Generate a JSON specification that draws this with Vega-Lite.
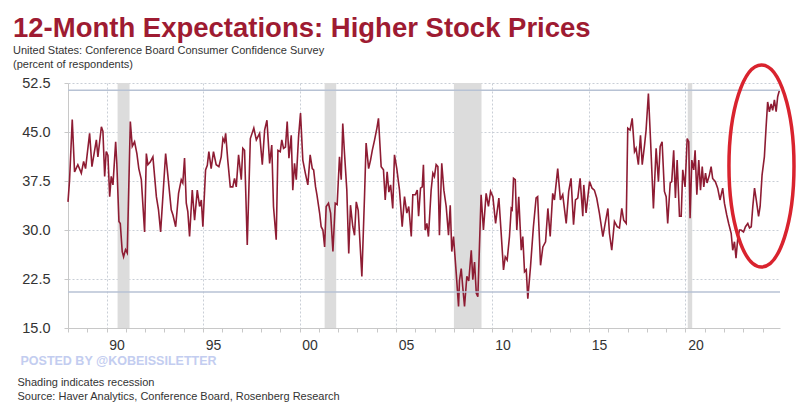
{
  "$schema": "https://vega.github.io/schema/vega-lite/v6.json",
  "width": 712,
  "height": 245,
  "autosize": {"type": "none"},
  "padding": {"left": 68, "top": 83, "right": 20, "bottom": 83},
  "background": "white",
  "title": {
    "text": "12-Month Expectations: Higher Stock Prices",
    "subtitle": ["United States: Conference Board Consumer Confidence Survey", "(percent of respondents)"],
    "anchor": "start",
    "frame": "group",
    "dx": -55,
    "offset": -12,
    "font": "Liberation Sans",
    "fontSize": 27.5,
    "fontWeight": "bold",
    "color": "#9e1b32",
    "subtitleFont": "Liberation Sans",
    "subtitleFontSize": 11,
    "subtitleColor": "#333333",
    "subtitlePadding": 3,
    "subtitleLineHeight": 13.5
  },
  "datasets": {
    "recessions": [
      {"start": 1990.57, "end": 1991.19},
      {"start": 2001.3, "end": 2001.9},
      {"start": 2008.0, "end": 2009.43},
      {"start": 2020.12, "end": 2020.35}
    ],
    "refs": [{"level": 51.4}, {"level": 20.5}],
    "highlight": [{"year": 2023.94, "value": 39.8}],
    "series": [
      {"year": 1988.0, "value": 34.3}, {"year": 1988.08, "value": 37.6}, {"year": 1988.22, "value": 46.9}, {"year": 1988.34, "value": 38.9},
      {"year": 1988.51, "value": 40.0}, {"year": 1988.69, "value": 38.7}, {"year": 1988.81, "value": 40.5}, {"year": 1988.91, "value": 39.4},
      {"year": 1989.12, "value": 44.8}, {"year": 1989.24, "value": 39.7}, {"year": 1989.47, "value": 43.8}, {"year": 1989.55, "value": 41.2},
      {"year": 1989.73, "value": 45.8}, {"year": 1989.81, "value": 45.1}, {"year": 1989.9, "value": 38.2}, {"year": 1989.98, "value": 42.0},
      {"year": 1990.07, "value": 41.4}, {"year": 1990.16, "value": 35.1}, {"year": 1990.24, "value": 38.2}, {"year": 1990.33, "value": 36.9},
      {"year": 1990.47, "value": 43.5}, {"year": 1990.53, "value": 40.2}, {"year": 1990.64, "value": 31.3}, {"year": 1990.71, "value": 31.0},
      {"year": 1990.81, "value": 26.7}, {"year": 1990.88, "value": 25.9}, {"year": 1990.98, "value": 27.0}, {"year": 1991.07, "value": 26.5},
      {"year": 1991.23, "value": 46.6}, {"year": 1991.33, "value": 42.8}, {"year": 1991.45, "value": 43.5}, {"year": 1991.57, "value": 41.7},
      {"year": 1991.67, "value": 39.4}, {"year": 1991.8, "value": 37.7}, {"year": 1991.97, "value": 29.7}, {"year": 1992.06, "value": 41.7},
      {"year": 1992.14, "value": 40.0}, {"year": 1992.26, "value": 40.4}, {"year": 1992.4, "value": 41.2}, {"year": 1992.58, "value": 35.1},
      {"year": 1992.69, "value": 33.1}, {"year": 1992.8, "value": 29.7}, {"year": 1993.06, "value": 41.7}, {"year": 1993.18, "value": 38.2},
      {"year": 1993.35, "value": 33.1}, {"year": 1993.44, "value": 32.3}, {"year": 1993.58, "value": 30.5}, {"year": 1993.73, "value": 35.6},
      {"year": 1993.87, "value": 37.7}, {"year": 1993.95, "value": 37.2}, {"year": 1994.04, "value": 41.0}, {"year": 1994.13, "value": 34.1},
      {"year": 1994.21, "value": 32.8}, {"year": 1994.3, "value": 29.0}, {"year": 1994.44, "value": 36.1}, {"year": 1994.56, "value": 31.5},
      {"year": 1994.7, "value": 36.1}, {"year": 1994.82, "value": 33.6}, {"year": 1994.91, "value": 34.6}, {"year": 1994.99, "value": 30.5},
      {"year": 1995.13, "value": 39.2}, {"year": 1995.22, "value": 39.9}, {"year": 1995.3, "value": 42.0}, {"year": 1995.42, "value": 39.4},
      {"year": 1995.54, "value": 42.0}, {"year": 1995.68, "value": 40.0}, {"year": 1995.82, "value": 39.7}, {"year": 1995.94, "value": 41.2},
      {"year": 1996.03, "value": 44.0}, {"year": 1996.11, "value": 43.5}, {"year": 1996.17, "value": 44.8}, {"year": 1996.28, "value": 40.7},
      {"year": 1996.41, "value": 36.6}, {"year": 1996.54, "value": 36.6}, {"year": 1996.63, "value": 37.9}, {"year": 1996.72, "value": 36.6},
      {"year": 1996.84, "value": 41.5}, {"year": 1996.98, "value": 37.7}, {"year": 1997.06, "value": 42.5}, {"year": 1997.15, "value": 42.2},
      {"year": 1997.29, "value": 27.7}, {"year": 1997.45, "value": 44.0}, {"year": 1997.63, "value": 45.6}, {"year": 1997.76, "value": 43.8},
      {"year": 1997.93, "value": 44.8}, {"year": 1998.07, "value": 40.0}, {"year": 1998.19, "value": 45.3}, {"year": 1998.31, "value": 46.8},
      {"year": 1998.45, "value": 40.2}, {"year": 1998.56, "value": 43.0}, {"year": 1998.65, "value": 33.6}, {"year": 1998.79, "value": 28.5},
      {"year": 1998.88, "value": 42.2}, {"year": 1999.0, "value": 42.0}, {"year": 1999.08, "value": 43.8}, {"year": 1999.17, "value": 42.5},
      {"year": 1999.27, "value": 42.7}, {"year": 1999.36, "value": 46.6}, {"year": 1999.45, "value": 41.0}, {"year": 1999.57, "value": 44.5},
      {"year": 1999.65, "value": 36.1}, {"year": 1999.74, "value": 40.2}, {"year": 1999.83, "value": 37.7}, {"year": 1999.95, "value": 44.3},
      {"year": 2000.05, "value": 47.9}, {"year": 2000.17, "value": 40.7}, {"year": 2000.3, "value": 38.7}, {"year": 2000.43, "value": 36.9},
      {"year": 2000.55, "value": 41.5}, {"year": 2000.66, "value": 39.4}, {"year": 2000.73, "value": 39.2}, {"year": 2000.83, "value": 36.6},
      {"year": 2000.9, "value": 35.4}, {"year": 2001.04, "value": 32.6}, {"year": 2001.12, "value": 30.5}, {"year": 2001.21, "value": 30.0},
      {"year": 2001.3, "value": 27.4}, {"year": 2001.38, "value": 33.6}, {"year": 2001.5, "value": 34.1}, {"year": 2001.61, "value": 32.6},
      {"year": 2001.73, "value": 26.7}, {"year": 2001.85, "value": 34.1}, {"year": 2001.95, "value": 33.9}, {"year": 2002.07, "value": 41.2},
      {"year": 2002.16, "value": 37.7}, {"year": 2002.24, "value": 46.3}, {"year": 2002.33, "value": 41.7}, {"year": 2002.45, "value": 36.1},
      {"year": 2002.55, "value": 26.4}, {"year": 2002.64, "value": 33.8}, {"year": 2002.76, "value": 30.5}, {"year": 2002.85, "value": 29.2},
      {"year": 2002.94, "value": 34.3}, {"year": 2003.04, "value": 33.0}, {"year": 2003.23, "value": 22.9}, {"year": 2003.37, "value": 35.4},
      {"year": 2003.45, "value": 43.3}, {"year": 2003.58, "value": 39.4}, {"year": 2003.68, "value": 40.7}, {"year": 2003.77, "value": 42.2},
      {"year": 2003.89, "value": 43.8}, {"year": 2004.01, "value": 45.6}, {"year": 2004.09, "value": 47.1}, {"year": 2004.23, "value": 39.7},
      {"year": 2004.35, "value": 39.2}, {"year": 2004.44, "value": 34.6}, {"year": 2004.54, "value": 38.9}, {"year": 2004.63, "value": 35.8},
      {"year": 2004.72, "value": 36.9}, {"year": 2004.83, "value": 33.3}, {"year": 2004.92, "value": 41.5}, {"year": 2005.04, "value": 39.4},
      {"year": 2005.18, "value": 36.1}, {"year": 2005.32, "value": 30.5}, {"year": 2005.44, "value": 35.1}, {"year": 2005.56, "value": 32.6},
      {"year": 2005.66, "value": 33.6}, {"year": 2005.79, "value": 29.0}, {"year": 2005.87, "value": 35.4}, {"year": 2006.0, "value": 35.4},
      {"year": 2006.1, "value": 36.1}, {"year": 2006.17, "value": 32.1}, {"year": 2006.27, "value": 36.4}, {"year": 2006.36, "value": 36.6},
      {"year": 2006.42, "value": 40.0}, {"year": 2006.51, "value": 30.0}, {"year": 2006.6, "value": 31.0}, {"year": 2006.68, "value": 29.0},
      {"year": 2006.82, "value": 36.1}, {"year": 2006.91, "value": 38.7}, {"year": 2006.99, "value": 38.2}, {"year": 2007.08, "value": 40.0},
      {"year": 2007.17, "value": 39.7}, {"year": 2007.25, "value": 29.2}, {"year": 2007.37, "value": 40.2}, {"year": 2007.48, "value": 36.1},
      {"year": 2007.6, "value": 33.6}, {"year": 2007.72, "value": 29.2}, {"year": 2007.81, "value": 33.8}, {"year": 2007.89, "value": 26.7},
      {"year": 2007.98, "value": 29.0}, {"year": 2008.12, "value": 23.4}, {"year": 2008.24, "value": 18.3}, {"year": 2008.29, "value": 22.3},
      {"year": 2008.38, "value": 24.1}, {"year": 2008.46, "value": 21.2}, {"year": 2008.55, "value": 18.3}, {"year": 2008.67, "value": 22.9},
      {"year": 2008.77, "value": 22.2}, {"year": 2008.9, "value": 26.9}, {"year": 2008.98, "value": 22.4}, {"year": 2009.07, "value": 25.1},
      {"year": 2009.16, "value": 20.3}, {"year": 2009.24, "value": 19.8}, {"year": 2009.41, "value": 35.4}, {"year": 2009.53, "value": 30.0},
      {"year": 2009.67, "value": 35.6}, {"year": 2009.79, "value": 33.6}, {"year": 2009.9, "value": 35.9}, {"year": 2010.02, "value": 35.1},
      {"year": 2010.16, "value": 31.0}, {"year": 2010.33, "value": 34.9}, {"year": 2010.45, "value": 29.5}, {"year": 2010.57, "value": 23.9},
      {"year": 2010.66, "value": 25.9}, {"year": 2010.76, "value": 25.4}, {"year": 2010.88, "value": 29.0}, {"year": 2010.97, "value": 33.3},
      {"year": 2011.02, "value": 33.1}, {"year": 2011.09, "value": 37.9}, {"year": 2011.18, "value": 37.7}, {"year": 2011.26, "value": 30.0},
      {"year": 2011.36, "value": 35.1}, {"year": 2011.49, "value": 26.9}, {"year": 2011.57, "value": 29.0}, {"year": 2011.66, "value": 23.6},
      {"year": 2011.75, "value": 23.9}, {"year": 2011.83, "value": 19.5}, {"year": 2011.97, "value": 24.4}, {"year": 2012.12, "value": 30.5},
      {"year": 2012.26, "value": 34.9}, {"year": 2012.34, "value": 35.1}, {"year": 2012.49, "value": 24.6}, {"year": 2012.61, "value": 27.4},
      {"year": 2012.75, "value": 28.2}, {"year": 2012.87, "value": 33.3}, {"year": 2012.99, "value": 29.0}, {"year": 2013.12, "value": 35.6},
      {"year": 2013.21, "value": 34.6}, {"year": 2013.38, "value": 39.4}, {"year": 2013.52, "value": 34.6}, {"year": 2013.64, "value": 35.4},
      {"year": 2013.82, "value": 31.0}, {"year": 2013.95, "value": 35.9}, {"year": 2014.07, "value": 37.9}, {"year": 2014.2, "value": 30.8},
      {"year": 2014.3, "value": 34.6}, {"year": 2014.42, "value": 34.9}, {"year": 2014.54, "value": 37.9}, {"year": 2014.68, "value": 32.1},
      {"year": 2014.73, "value": 36.9}, {"year": 2014.85, "value": 32.6}, {"year": 2015.03, "value": 37.4}, {"year": 2015.16, "value": 36.4},
      {"year": 2015.28, "value": 36.1}, {"year": 2015.4, "value": 34.9}, {"year": 2015.54, "value": 32.6}, {"year": 2015.72, "value": 29.0},
      {"year": 2015.84, "value": 31.0}, {"year": 2015.98, "value": 33.3}, {"year": 2016.06, "value": 29.5}, {"year": 2016.18, "value": 26.9},
      {"year": 2016.32, "value": 31.3}, {"year": 2016.46, "value": 30.5}, {"year": 2016.58, "value": 30.3}, {"year": 2016.7, "value": 33.3},
      {"year": 2016.8, "value": 31.5}, {"year": 2016.93, "value": 31.0}, {"year": 2017.01, "value": 45.6}, {"year": 2017.13, "value": 45.3},
      {"year": 2017.24, "value": 47.1}, {"year": 2017.36, "value": 42.0}, {"year": 2017.44, "value": 42.5}, {"year": 2017.56, "value": 40.0},
      {"year": 2017.67, "value": 44.5}, {"year": 2017.76, "value": 40.0}, {"year": 2017.88, "value": 43.0}, {"year": 2017.96, "value": 45.3},
      {"year": 2018.08, "value": 50.9}, {"year": 2018.19, "value": 43.8}, {"year": 2018.34, "value": 33.3}, {"year": 2018.48, "value": 42.5},
      {"year": 2018.6, "value": 37.4}, {"year": 2018.69, "value": 42.8}, {"year": 2018.79, "value": 43.5}, {"year": 2018.91, "value": 35.9},
      {"year": 2019.0, "value": 35.1}, {"year": 2019.08, "value": 31.0}, {"year": 2019.21, "value": 37.2}, {"year": 2019.29, "value": 37.4},
      {"year": 2019.39, "value": 42.2}, {"year": 2019.48, "value": 34.9}, {"year": 2019.57, "value": 40.7}, {"year": 2019.69, "value": 32.1},
      {"year": 2019.78, "value": 32.1}, {"year": 2019.86, "value": 39.2}, {"year": 2019.98, "value": 36.6}, {"year": 2020.09, "value": 44.0},
      {"year": 2020.17, "value": 43.5}, {"year": 2020.24, "value": 31.8}, {"year": 2020.33, "value": 40.7}, {"year": 2020.43, "value": 39.2},
      {"year": 2020.5, "value": 42.2}, {"year": 2020.59, "value": 35.4}, {"year": 2020.69, "value": 40.7}, {"year": 2020.78, "value": 36.1},
      {"year": 2020.87, "value": 39.7}, {"year": 2020.95, "value": 36.6}, {"year": 2021.04, "value": 38.7}, {"year": 2021.12, "value": 37.2},
      {"year": 2021.24, "value": 38.4}, {"year": 2021.33, "value": 39.7}, {"year": 2021.41, "value": 37.9}, {"year": 2021.55, "value": 37.4},
      {"year": 2021.67, "value": 36.4}, {"year": 2021.79, "value": 34.6}, {"year": 2021.93, "value": 36.4}, {"year": 2022.02, "value": 34.1},
      {"year": 2022.14, "value": 32.3}, {"year": 2022.24, "value": 31.0}, {"year": 2022.37, "value": 29.5}, {"year": 2022.45, "value": 26.9},
      {"year": 2022.54, "value": 28.2}, {"year": 2022.62, "value": 25.7}, {"year": 2022.71, "value": 28.7}, {"year": 2022.8, "value": 30.0},
      {"year": 2022.88, "value": 30.0}, {"year": 2023.01, "value": 29.7}, {"year": 2023.11, "value": 30.5}, {"year": 2023.23, "value": 31.0},
      {"year": 2023.32, "value": 30.3}, {"year": 2023.41, "value": 30.5}, {"year": 2023.49, "value": 33.6}, {"year": 2023.58, "value": 36.4},
      {"year": 2023.67, "value": 34.6}, {"year": 2023.79, "value": 32.1}, {"year": 2023.87, "value": 33.6}, {"year": 2023.97, "value": 38.4},
      {"year": 2024.09, "value": 41.2}, {"year": 2024.18, "value": 45.8}, {"year": 2024.26, "value": 49.6}, {"year": 2024.35, "value": 48.1},
      {"year": 2024.44, "value": 49.3}, {"year": 2024.52, "value": 48.3}, {"year": 2024.61, "value": 49.9}, {"year": 2024.7, "value": 48.1},
      {"year": 2024.78, "value": 50.4}, {"year": 2024.87, "value": 51.4}
    ]
  },
  "layer": [
    {
      "data": {"name": "recessions"},
      "mark": {"type": "rect", "color": "#dcdcdc"},
      "encoding": {
        "x": {
          "field": "start",
          "type": "quantitative",
          "scale": {"domain": [1988, 2024.9], "nice": false, "zero": false},
          "axis": {
            "tickCount": 40,
            "labelExpr": "datum.value % 5 === 0 ? substring(toString(datum.value), 2, 4) : ''",
            "labelOffset": 10,
            "labelFont": "Liberation Sans",
            "labelFontSize": 14,
            "labelColor": "#333333",
            "labelPadding": 6,
            "labelOverlap": false,
            "labelFlush": false,
            "labelBound": false,
            "tickSize": 4,
            "tickColor": "#c8c8c8",
            "domainColor": "#c8c8c8",
            "grid": true,
            "gridColor": "#c9ced6",
            "gridDash": [2, 2],
            "gridOpacity": {"condition": {"test": "datum.value % 5 !== 0", "value": 0}, "value": 1},
            "title": ["Shading indicates recession", "Source: Haver Analytics, Conference Board, Rosenberg Research"],
            "titleFont": "Liberation Sans",
            "titleFontSize": 11,
            "titleFontWeight": "normal",
            "titleColor": "#333333",
            "titleAlign": "left",
            "titleAnchor": "start",
            "titleBaseline": "alphabetic",
            "titleX": -51,
            "titleY": 57,
            "titleLineHeight": 14
          }
        },
        "x2": {"field": "end"}
      }
    },
    {
      "data": {"name": "series"},
      "mark": {"type": "line", "color": "#8e1c33", "strokeWidth": 1.6},
      "encoding": {
        "x": {
          "field": "year",
          "type": "quantitative",
          "scale": {"domain": [1988, 2024.9], "nice": false, "zero": false},
          "axis": {
            "tickCount": 40,
            "labelExpr": "datum.value % 5 === 0 ? substring(toString(datum.value), 2, 4) : ''",
            "labelOffset": 10,
            "labelFont": "Liberation Sans",
            "labelFontSize": 14,
            "labelColor": "#333333",
            "labelPadding": 6,
            "labelOverlap": false,
            "labelFlush": false,
            "labelBound": false,
            "tickSize": 4,
            "tickColor": "#c8c8c8",
            "domainColor": "#c8c8c8",
            "grid": true,
            "gridColor": "#c9ced6",
            "gridDash": [2, 2],
            "gridOpacity": {"condition": {"test": "datum.value % 5 !== 0", "value": 0}, "value": 1},
            "title": ["Shading indicates recession", "Source: Haver Analytics, Conference Board, Rosenberg Research"],
            "titleFont": "Liberation Sans",
            "titleFontSize": 11,
            "titleFontWeight": "normal",
            "titleColor": "#333333",
            "titleAlign": "left",
            "titleAnchor": "start",
            "titleBaseline": "alphabetic",
            "titleX": -51,
            "titleY": 57,
            "titleLineHeight": 14
          }
        },
        "y": {
          "field": "value",
          "type": "quantitative",
          "scale": {"domain": [15, 52.5], "nice": false, "zero": false},
          "axis": {
            "values": [15, 22.5, 30, 37.5, 45, 52.5],
            "format": ".1f",
            "labelFont": "Liberation Sans",
            "labelFontSize": 14.5,
            "labelColor": "#333333",
            "labelPadding": 14,
            "tickSize": 4,
            "tickColor": "#c8c8c8",
            "domainColor": "#c8c8c8",
            "grid": true,
            "gridColor": "#c9ced6",
            "gridDash": [2, 2],
            "title": "POSTED BY @KOBEISSILETTER",
            "titleAngle": 0,
            "titleX": -48,
            "titleY": 277,
            "titleAlign": "left",
            "titleBaseline": "middle",
            "titleColor": "#c3cdf0",
            "titleFont": "Liberation Sans",
            "titleFontSize": 12.5,
            "titleFontWeight": "bold"
          }
        }
      }
    },
    {
      "data": {"name": "refs"},
      "mark": {"type": "rule", "color": "#b7c2d4", "strokeWidth": 1.5},
      "encoding": {
        "y": {"field": "level", "type": "quantitative"}
      }
    },
    {
      "data": {"name": "highlight"},
      "mark": {
        "type": "point",
        "shape": "M 0.322 0 C 0.322 0.552 0.178 1 0 1 C -0.178 1 -0.322 0.552 -0.322 0 C -0.322 -0.552 -0.178 -1 0 -1 C 0.178 -1 0.322 -0.552 0.322 0 Z",
        "size": 40804,
        "filled": false,
        "stroke": "#d9232e",
        "strokeWidth": 3.5,
        "opacity": 1
      },
      "encoding": {
        "x": {"field": "year", "type": "quantitative"},
        "y": {"field": "value", "type": "quantitative"}
      }
    }
  ],
  "config": {"view": {"stroke": null}}
}
